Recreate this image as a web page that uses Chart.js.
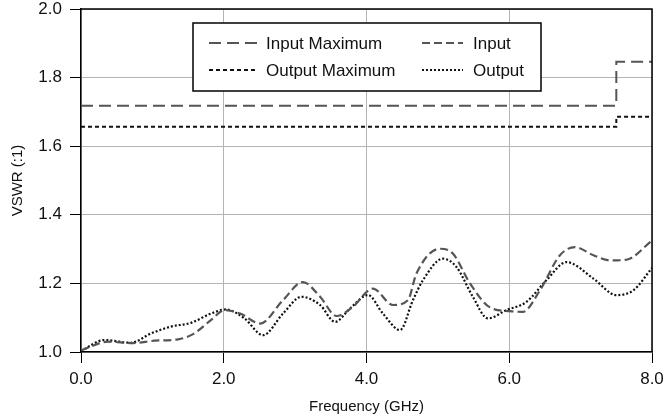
<!DOCTYPE html>
<html>
<head>
<meta charset="utf-8">
<script src="https://cdn.jsdelivr.net/npm/chart.js@4"></script>
<style>
html,body{margin:0;padding:0;background:#fff;}
#wrap{position:relative;width:667px;height:420px;}
</style>
</head>
<body>
<div id="wrap"><canvas id="c" width="667" height="420"></canvas></div>
<script>
// ---- data ----
const inputFreq = [0, 0.38, 0.73, 1.03, 1.36, 1.57, 1.82, 2.01, 2.23, 2.51, 2.83, 3.11, 3.35, 3.58, 3.81, 4.09, 4.37, 4.58, 4.70, 5.03, 5.21, 5.45, 5.73, 6.01, 6.19, 6.43, 6.71, 6.92, 7.18, 7.41, 7.64, 8.0];
const inputVswr = [1.005, 1.030, 1.026, 1.033, 1.037, 1.052, 1.093, 1.122, 1.112, 1.083, 1.151, 1.204, 1.161, 1.105, 1.132, 1.185, 1.137, 1.151, 1.229, 1.301, 1.287, 1.200, 1.130, 1.119, 1.117, 1.180, 1.282, 1.306, 1.282, 1.267, 1.269, 1.325];
const outputFreq = [0, 0.33, 0.70, 0.98, 1.26, 1.54, 1.82, 2.03, 2.29, 2.55, 2.83, 3.09, 3.35, 3.56, 3.77, 4.02, 4.23, 4.47, 4.65, 4.79, 5.07, 5.26, 5.49, 5.70, 5.96, 6.24, 6.52, 6.80, 7.18, 7.50, 7.74, 8.0];
const outputVswr = [1.003, 1.035, 1.027, 1.054, 1.074, 1.085, 1.112, 1.124, 1.098, 1.049, 1.112, 1.161, 1.137, 1.088, 1.127, 1.166, 1.112, 1.064, 1.151, 1.209, 1.272, 1.248, 1.161, 1.098, 1.122, 1.146, 1.209, 1.262, 1.214, 1.166, 1.180, 1.245];
const maxFreq = [0, 7.5, 7.5, 8.0];
const inputMaxVswr = [1.718, 1.718, 1.846, 1.846];
const outputMaxVswr = [1.657, 1.657, 1.686, 1.686];
const seriesNames = ['Input Maximum', 'Input', 'Output Maximum', 'Output'];
const xTickLabels = ['0.0', '2.0', '4.0', '6.0', '8.0'];
const yTickLabels = ['1.0', '1.2', '1.4', '1.6', '1.8', '2.0'];
const xTitle = 'Frequency (GHz)';
const yTitle = 'VSWR (:1)';

const pts = (xs, ys) => xs.map((x, i) => ({x: x, y: ys[i]}));
const FONT = "'Liberation Sans', Arial, Helvetica, sans-serif";

const boxFrame = {
  id: 'boxFrame',
  afterDraw(chart) {
    const a = chart.chartArea, ctx = chart.ctx;
    ctx.save();
    ctx.strokeStyle = '#000';
    ctx.lineWidth = 1.5;
    ctx.beginPath();
    ctx.moveTo(a.left, a.top); ctx.lineTo(a.right, a.top); ctx.lineTo(a.right, a.bottom);
    ctx.stroke();
    ctx.restore();
  }
};

const boxLegend = {
  id: 'boxLegend',
  afterDraw(chart) {
    const ctx = chart.ctx;
    const ds = chart.data.datasets;
    ctx.save();
    ctx.fillStyle = '#fff';
    ctx.fillRect(193, 23, 348, 68);
    ctx.strokeStyle = '#000';
    ctx.lineWidth = 1.5;
    ctx.strokeRect(193, 23, 348, 68);
    const slots = [
      {x0: 209, x1: 257, tx: 266, y: 43},
      {x0: 422, x1: 463, tx: 473, y: 43},
      {x0: 209, x1: 257, tx: 266, y: 70},
      {x0: 422, x1: 463, tx: 473, y: 70}
    ];
    ds.forEach((d, i) => {
      const s = slots[i];
      ctx.save();
      ctx.strokeStyle = d.borderColor;
      ctx.lineWidth = d.borderWidth;
      ctx.setLineDash(d.borderDash || []);
      ctx.beginPath();
      ctx.moveTo(s.x0, s.y); ctx.lineTo(s.x1, s.y);
      ctx.stroke();
      ctx.restore();
      ctx.fillStyle = '#111';
      ctx.font = '17px ' + FONT;
      ctx.textBaseline = 'middle';
      ctx.textAlign = 'left';
      ctx.fillText(d.label, s.tx, s.y + 1);
    });
    ctx.restore();
  }
};

new Chart(document.getElementById('c'), {
  type: 'line',
  data: {
    datasets: [
      {label: seriesNames[0], data: pts(maxFreq, inputMaxVswr), borderColor: '#555', borderWidth: 2, borderDash: [12, 6], tension: 0, pointRadius: 0, fill: false},
      {label: seriesNames[1], data: pts(inputFreq, inputVswr), borderColor: '#555', borderWidth: 2.2, borderDash: [8, 4], cubicInterpolationMode: 'monotone', pointRadius: 0, fill: false},
      {label: seriesNames[2], data: pts(maxFreq, outputMaxVswr), borderColor: '#111', borderWidth: 2, borderDash: [4, 3], tension: 0, pointRadius: 0, fill: false},
      {label: seriesNames[3], data: pts(outputFreq, outputVswr), borderColor: '#111', borderWidth: 2.2, borderDash: [2, 2], cubicInterpolationMode: 'monotone', pointRadius: 0, fill: false}
    ]
  },
  options: {
    responsive: false,
    animation: false,
    devicePixelRatio: 1,
    layout: {padding: {top: 9, right: 15, left: 0, bottom: 0}},
    plugins: {legend: {display: false}, tooltip: {enabled: false}},
    scales: {
      x: {
        type: 'linear', min: 0, max: 8,
        border: {color: '#000', width: 1.5},
        grid: {color: '#b4b4b4', lineWidth: 1, tickColor: '#000', tickLength: 11, drawTicks: true},
        ticks: {stepSize: 2, color: '#111', font: {family: FONT, size: 17}, padding: 6, maxRotation: 0,
          callback: (v) => xTickLabels[Math.round(v / 2)]},
        title: {display: true, text: xTitle, color: '#111', font: {family: FONT, size: 15}, padding: {top: 1, bottom: 4}},
        afterFit: (s) => { s.height = 68; s.paddingLeft = 0; s.paddingRight = 0; }
      },
      y: {
        type: 'linear', min: 1.0, max: 2.0,
        border: {color: '#000', width: 1.5},
        grid: {color: '#b4b4b4', lineWidth: 1, tickColor: '#000', tickLength: 11, drawTicks: true},
        ticks: {stepSize: 0.2, color: '#111', font: {family: FONT, size: 17}, padding: 8,
          callback: (v) => yTickLabels[Math.round((v - 1) / 0.2)]},
        title: {display: true, text: yTitle, color: '#111', font: {family: FONT, size: 15}, padding: {top: 9, bottom: 4}},
        afterFit: (s) => { s.width = 81; s.paddingTop = 0; s.paddingBottom = 0; }
      }
    }
  },
  plugins: [boxFrame, boxLegend]
});
</script>
</body>
</html>
